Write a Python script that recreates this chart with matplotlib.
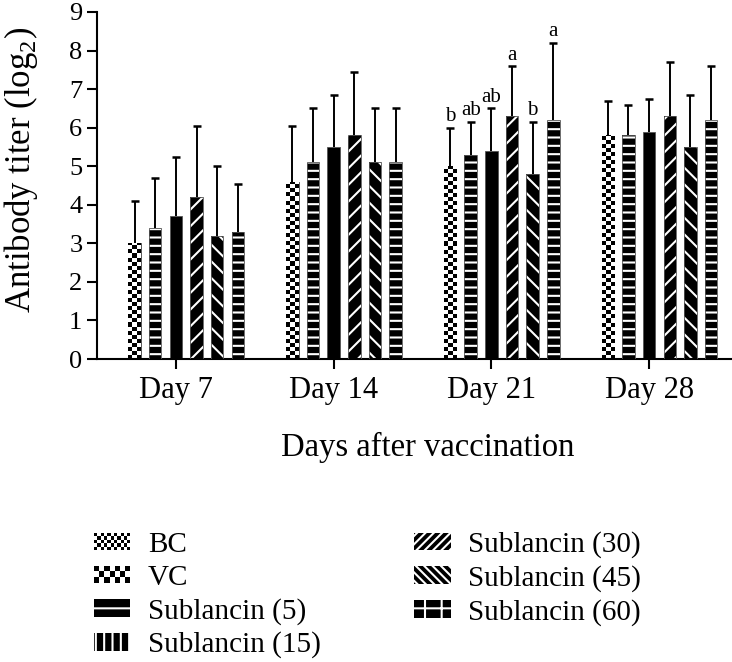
"""
Antibody titer bar chart (log2) by day after vaccination, 7 treatment groups.
Output: out.png (732x662 px)
"""
import numpy as np
import matplotlib
matplotlib.use('Agg')
import matplotlib.pyplot as plt
from matplotlib.patches import Patch, Rectangle
from matplotlib.legend_handler import HandlerBase

plt.rcParams['font.family'] = ['Liberation Serif', 'DejaVu Serif']
plt.rcParams['mathtext.fontset'] = 'custom'
plt.rcParams['mathtext.rm'] = 'Liberation Serif'
plt.rcParams['hatch.linewidth'] = 1.5

# ---- data -------------------------------------------------------------
days = ['Day 7', 'Day 14', 'Day 21', 'Day 28']
groups = ['BC', 'VC', 'Sublancin (5)', 'Sublancin (15)',
          'Sublancin (30)', 'Sublancin (45)', 'Sublancin (60)']

bc_mean  = [0.0, 0.0, 0.0, 0.0]
vc_mean  = [3.0, 4.6, 5.0, 5.8]
s5_mean  = [3.4, 5.1, 5.3, 5.8]
s15_mean = [3.7, 5.5, 5.4, 5.9]
s30_mean = [4.2, 5.8, 6.3, 6.3]
s45_mean = [3.2, 5.1, 4.8, 5.5]
s60_mean = [3.3, 5.1, 6.2, 6.2]

bc_sd  = [0.0, 0.0, 0.0, 0.0]
vc_sd  = [1.1, 1.45, 1.0, 0.9]
s5_sd  = [1.3, 1.4, 0.85, 0.8]
s15_sd = [1.55, 1.35, 1.1, 0.85]
s30_sd = [1.85, 1.65, 1.3, 1.4]
s45_sd = [1.8, 1.4, 1.35, 1.35]
s60_sd = [1.25, 1.4, 2.0, 1.4]

# significance letters, Day 21 only
day21_letters = ['', 'b', 'ab', 'ab', 'a', 'b', 'a']

means = [bc_mean, vc_mean, s5_mean, s15_mean, s30_mean, s45_mean, s60_mean]
sds = [bc_sd, vc_sd, s5_sd, s15_sd, s30_sd, s45_sd, s60_sd]

# ---- styles -----------------------------------------------------------
bar_hatch = [None, 'checker', '--', None, '//', '\\\\', '--']
legend_hatch = [None, None, '-', '||', '////', '\\\\\\\\', '+']


class Checker:
    def __init__(self, ncols, nrows):
        self.ncols = ncols
        self.nrows = nrows


class HandlerChecker(HandlerBase):
    def create_artists(self, legend, orig_handle, xdescent, ydescent,
                       width, height, fontsize, trans):
        nc, nr = orig_handle.ncols, orig_handle.nrows
        sw, sh = width / nc, height / nr
        arts = [Rectangle((-xdescent, -ydescent), width, height,
                          facecolor='white', edgecolor='none', transform=trans)]
        for i in range(nc):
            for j in range(nr):
                if (i + j) % 2 == 0:
                    arts.append(Rectangle((-xdescent + i * sw, -ydescent + j * sh),
                                          sw, sh, facecolor='black',
                                          edgecolor='none', transform=trans))
        return arts


W, H, DPI = 732, 662, 100
fig = plt.figure(figsize=(W / DPI, H / DPI), dpi=DPI)
ax = fig.add_axes([97 / W, 1 - 359 / H, 1 - 97 / W, (359 - 12) / H])

x = np.arange(len(days))
step = 0.131
width = 0.079

for i, (g, m, s) in enumerate(zip(groups, means, sds)):
    pos = x + (i - 3) * step
    hatch = bar_hatch[i]
    if hatch in (None, 'checker'):
        bars = ax.bar(pos, m, width, color='black', edgecolor='#555555',
                      linewidth=0.6, zorder=2)
    else:
        bars = ax.bar(pos, m, width, color='black', edgecolor='white',
                      hatch=hatch, linewidth=0, zorder=2)
        ax.bar(pos, m, width, fill=False, edgecolor='#555555',
               linewidth=0.6, zorder=3)
    if hatch == 'checker':
        sq = 0.105
        for b in bars:
            h = b.get_height()
            nr = int(np.ceil(h / sq))
            pattern = (np.add.outer(np.arange(nr), np.arange(3)) % 2).astype(float)
            x0 = b.get_x()
            im = ax.imshow(pattern, cmap='gray', interpolation='nearest',
                           origin='lower', aspect='auto', zorder=2.5,
                           extent=(x0, x0 + b.get_width(), 0, nr * sq))
            im.set_clip_path(b)
    if max(s) > 0:
        eb = ax.errorbar(pos, m, yerr=[np.zeros(len(s)), s], fmt='none',
                         ecolor='black', elinewidth=1.4, capsize=2.6,
                         capthick=1.8, zorder=4)
        eb[1][0].set_visible(False)
    if day21_letters[i]:
        k = days.index('Day 21')
        ax.annotate(day21_letters[i], (pos[k], m[k] + s[k]),
                    xytext=(0, 1), textcoords='offset points',
                    ha='center', va='bottom', fontsize=15)

ax.set_xlim(-0.5, (W - 176) / 157.7)
ax.set_ylim(0, 9)
ax.set_yticks(range(0, 10))
ax.set_xticks(x)
ax.set_xticklabels(days)
ax.tick_params(axis='both', width=1.5, length=7.5)
ax.tick_params(axis='x', pad=5, labelsize=22)
ax.tick_params(axis='y', pad=3, labelsize=19)
for sp in ['top', 'right']:
    ax.spines[sp].set_visible(False)
for sp in ['left', 'bottom']:
    ax.spines[sp].set_linewidth(1.5)

ax.set_ylabel('Antibody titer (log$_2$)', fontsize=25)
ax.yaxis.set_label_coords(-0.089, 0.545)
ax.set_xlabel('Days after vaccination', fontsize=23.5)
ax.xaxis.set_label_coords((428 - 97) / (W - 97), -0.21)

handles = [Checker(11, 5), Checker(7, 3)]
for i in range(2, len(groups)):
    handles.append(Patch(facecolor='black', edgecolor='white',
                         hatch=legend_hatch[i], linewidth=0))
fig.legend(handles, groups, handler_map={Checker: HandlerChecker()},
           loc='upper left', bbox_to_anchor=(94 / W, 1 - 531 / H),
           ncol=2, frameon=False, fontsize=21, handlelength=1.25,
           handleheight=0.55, handletextpad=0.6, labelspacing=0.24,
           columnspacing=3.2, borderpad=0, borderaxespad=0)

fig.savefig('out.png', dpi=DPI)
